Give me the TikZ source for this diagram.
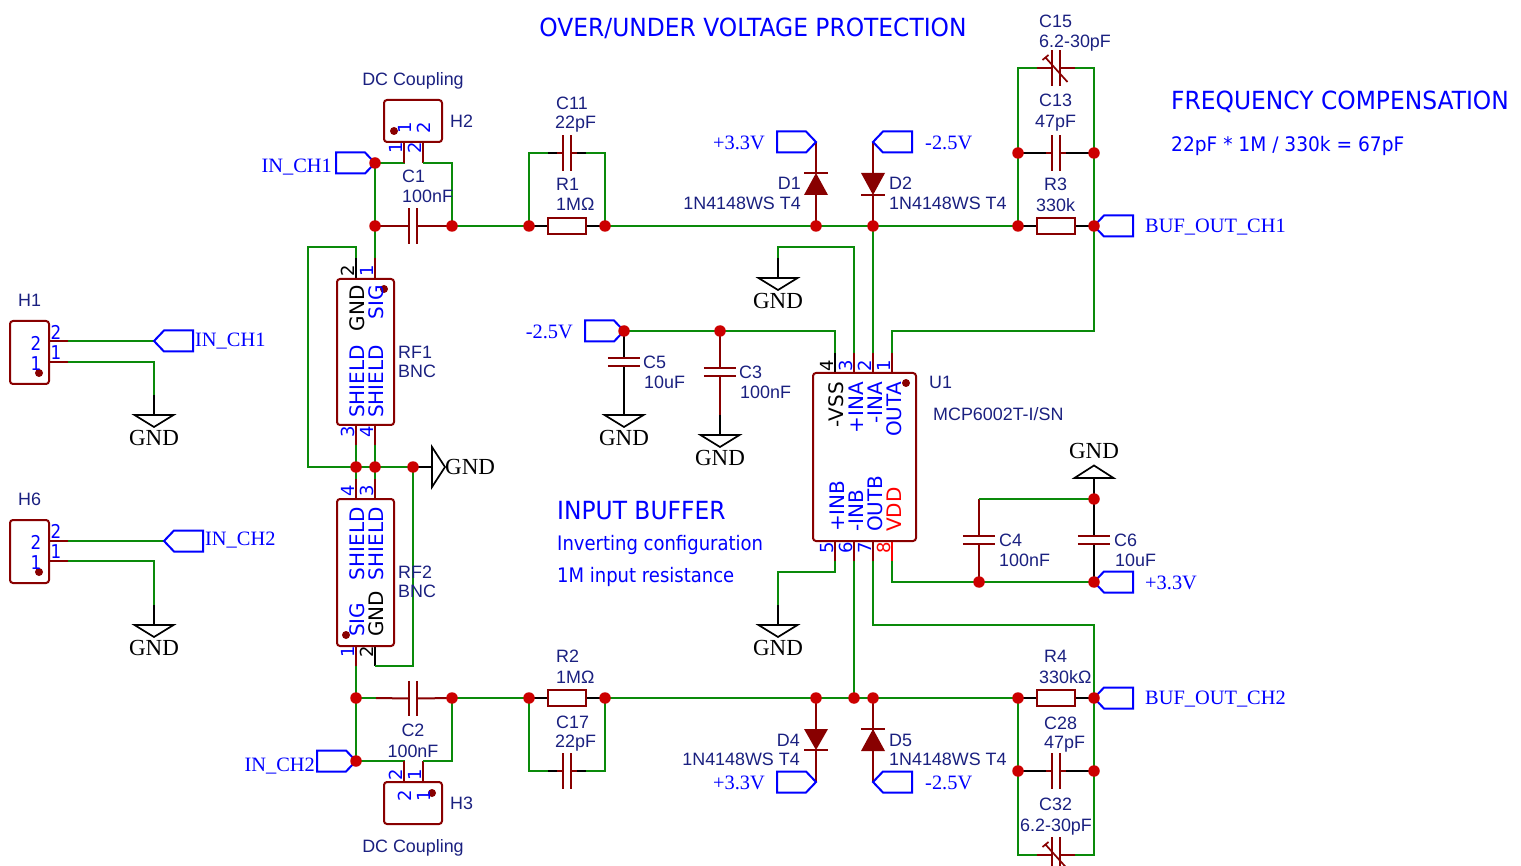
\documentclass[tikz,border=0pt]{standalone}
\usepackage{fontspec}
\setmainfont{Liberation Sans}
\newfontfamily\netfont{Liberation Serif}
\newfontfamily\pinfont{DejaVu Sans}
\newfontfamily\pnhfont[FakeStretch=0.88]{DejaVu Sans}
\newfontfamily\pnamefont[FakeStretch=1.0]{DejaVu Sans}
\newfontfamily\notefont[FakeStretch=0.9]{DejaVu Sans}
\newfontfamily\notefontb[FakeStretch=0.93]{DejaVu Sans}
\newfontfamily\headfont[FakeStretch=0.935]{DejaVu Sans}
\usetikzlibrary{backgrounds}
\definecolor{wirecol}{HTML}{0A8A0A}
\definecolor{symcol}{HTML}{880000}
\definecolor{juncol}{HTML}{CC0000}
\definecolor{netblue}{HTML}{0000FF}
\definecolor{desig}{HTML}{1A2080}
\tikzset{
  wirex/.style={draw=wirecol,line width=2pt,line join=miter},
  pinred/.style={draw=symcol,line width=2pt},
  pinblk/.style={draw=black,line width=2pt},
  sym/.style={draw=symcol,line width=2pt},
  junc/.style={circle,fill=juncol,draw=none,inner sep=0pt,minimum size=11.5pt},
  dotm/.style={circle,fill=symcol,draw=none,inner sep=0pt,minimum size=8pt},
  resbox/.style={draw=symcol,line width=2pt,fill=white,inner sep=0pt,minimum width=38pt,minimum height=16pt},
  hcapbox/.style={inner sep=0pt,minimum width=8pt,minimum height=35pt},
  vcapbox/.style={inner sep=0pt,minimum width=32pt,minimum height=8pt},
  chip/.style={draw=symcol,line width=2pt,rounded corners=3pt,inner sep=0pt,fill=white},
  flagline/.style={draw=netblue,line width=2pt,line join=miter},
  gndline/.style={draw=black,line width=1.7pt,line join=miter},
  lab/.style={inner sep=0pt,text=desig,font=\fontsize{17.9}{20}\selectfont,anchor=west},
  netlab/.style={inner sep=0pt,text=netblue,yshift=-1.2pt,font=\netfont\fontsize{20.4}{22}\selectfont},
  gndlab/.style={inner sep=0pt,text=black,yshift=-0.3pt,font=\netfont\fontsize{23}{24}\selectfont},
  pnum/.style={inner sep=0pt,text=netblue,font=\pinfont\fontsize{18}{20}\selectfont,rotate=90},
  pnumh/.style={inner sep=0pt,text=netblue,font=\pnhfont\fontsize{19}{20}\selectfont},
  pname/.style={inner sep=0pt,text=netblue,font=\pnamefont\fontsize{20}{22}\selectfont,rotate=90},
  note/.style={inner sep=0pt,text=netblue,anchor=west,font=\notefont\fontsize{20}{22}\selectfont},
  head/.style={inner sep=0pt,text=netblue,anchor=west,font=\headfont\fontsize{25}{28}\selectfont},
}
\newcommand{\ChipBox}[5]{\node[chip,minimum width=#4pt,minimum height=#5pt] (#1) at (#2,#3) {};}
\newcommand{\HCap}[3]{\node[hcapbox] (#1) at (#2,#3) {};
  \draw[sym] (#1.north west)--(#1.south west) (#1.north east)--(#1.south east);}
\newcommand{\VCap}[3]{\node[vcapbox] (#1) at (#2,#3) {};
  \draw[sym] (#1.north west)--(#1.north east) (#1.south west)--(#1.south east);}
\newcommand{\VarArrow}[2]{\draw[draw=symcol,line width=1.7pt] (#1-7.5,#2-11)--(#1+15,#2+14) (#1-10,#2-8)--(#1-4,#2-13);}
\newcommand{\FlagR}[3]{\coordinate (#1) at (#2,#3);
  \draw[flagline] (#1)--++(-10,-10.5)--++(-29,0)--++(0,21)--++(29,0)--cycle;}
\newcommand{\FlagL}[3]{\coordinate (#1) at (#2,#3);
  \draw[flagline] (#1)--++(10,-10.5)--++(29,0)--++(0,21)--++(-29,0)--cycle;}
\newcommand{\GndDown}[3]{\coordinate (#1) at (#2,#3);
  \draw[gndline] (#1)++(-19.5,0)--++(39,0)--++(-19.5,12)--cycle;
  \node[gndlab] (#1txt) at (#2,#3+23) {GND};}
\begin{document}
\begin{tikzpicture}[x=1pt,y=-1pt]
\useasboundingbox (0,0) rectangle (1521,866);
\begin{scope}
\clip (0,0) rectangle (1521,866);

% ---------- flags
\FlagR{fInCh1a}{375}{163}
\FlagR{fInCh2a}{356}{761}
\FlagL{fInCh1b}{154}{341}
\FlagL{fInCh2b}{164}{541}
\FlagR{fP33a}{816}{142}
\FlagL{fM25a}{873}{142}
\FlagR{fM25c}{624}{331}
\FlagL{fOut1}{1094}{226}
\FlagL{fOut2}{1094}{698}
\FlagL{fP33c}{1094}{582}
\FlagR{fP33b}{816}{782}
\FlagL{fM25b}{873}{782}

% ---------- junctions
\foreach \n/\p in {j1/{375,163},j2/{375,226},j3/{452,226},j4/{529,226},j5/{605,226},j6/{816,226},j7/{873,226},
  j8/{1018,226},j9/{1094,226},j10/{1018,153},j11/{1094,153},j12/{624,331},j13/{720,331},j14/{356,467},j15/{375,467},
  j16/{413,467},j17/{356,698},j18/{452,698},j19/{529,698},j20/{605,698},j21/{816,698},j22/{854,698},j23/{873,698},
  j24/{1018,698},j25/{1094,698},j26/{1018,771},j27/{1094,771},j28/{356,761},j29/{979,582},j30/{1094,582},j31/{1094,499}}
  {\node[junc] (\n) at (\p) {};}

% ---------- resistors
\node[resbox] (R1) at (567,226) {};
\node[resbox] (R3) at (1056,226) {};
\node[resbox] (R2) at (567,698) {};
\node[resbox] (R4) at (1056,698) {};
% ---------- capacitors
\HCap{C1}{413}{226}
\HCap{C2}{413}{698.5}
\HCap{C11}{567}{153}
\HCap{C17}{567}{771}
\HCap{C13}{1056}{153}
\HCap{C15}{1056}{68}
\HCap{C28}{1056}{771}
\HCap{C32}{1056}{855}
\VarArrow{1052.5}{68}
\VarArrow{1052.5}{855}
\VCap{C5}{624}{362}
\VCap{C3}{720}{372}
\VCap{C4}{979}{540}
\VCap{C6}{1094}{540}
% ---------- packages
\ChipBox{H2}{413}{121}{58}{42}
\ChipBox{H3}{413}{803}{58}{42}
\ChipBox{RF1}{365.5}{352}{57}{146}
\ChipBox{RF2}{365.5}{572.5}{57}{147}
\ChipBox{U1}{864.5}{457}{103}{168}
\ChipBox{H1}{29.5}{352.5}{39}{63}
\ChipBox{H6}{29.5}{551.5}{39}{63}
% ---------- grounds
\GndDown{g1}{154}{415}
\GndDown{g2}{154}{625}
\GndDown{g3}{778}{278}
\GndDown{g4}{624}{415}
\GndDown{g5}{720}{435}
\GndDown{g6}{778}{625}
\coordinate (g7) at (1094,478);
\draw[gndline] (g7)++(-19.5,0)--++(39,0)--++(-19.5,-12.5)--cycle;
\node[gndlab] (g7txt) at (1094,451) {GND};
\coordinate (g8) at (432,467);
\draw[gndline] (g8)++(0,-20)--++(0,40)--++(13,-20)--cycle;
\node[gndlab,anchor=west] (g8txt) at (445,467) {GND};
% ---------- diodes
\coordinate (D1a) at (816,195); \coordinate (D1k) at (816,173);
\coordinate (D2a) at (873,173); \coordinate (D2k) at (873,195);
\coordinate (D4a) at (816,729); \coordinate (D4k) at (816,750);
\coordinate (D5a) at (873,751); \coordinate (D5k) at (873,729);
\foreach \a/\k in {D1a/D1k,D2a/D2k,D4a/D4k,D5a/D5k}{
  \fill[symcol] (\a)++(-12,0)--++(24,0)--(\k)--cycle;
  \draw[sym] (\k)++(-12,0)--++(24,0);
}

% ---------- wires and leads behind everything
\begin{scope}[on background layer]
\draw[wirex] (j1.center)--(j2.center)--(375,258);
\draw[pinred] (375,258)--(375,279);
\draw[wirex] (j1.center)-|(404,155);
\draw[pinred] (404,163)--(404,142);
\draw[pinred] (423,142)--(423,163);
\draw[wirex] (423,163)-|(j3.center);
\draw[pinred] (j2.center)--(C1.west) (C1.east)--(j3.center);
\draw[wirex] (j3.center)--(j4.center);
\draw[pinblk] (j4.center)--(R1.west) (R1.east)--(j5.center);
\draw[wirex] (j4.center)|-(548,153);
\draw[wirex] (j5.center)|-(586,153);
\draw[pinblk] (548,153)--(C11.west) (C11.east)--(586,153);
\draw[pinred] (557,153)--(C11.west) (C11.east)--(577,153);
\draw[wirex] (j5.center)--(j6.center)--(j7.center)--(j8.center);
\draw[pinblk] (j8.center)--(R3.west) (R3.east)--(j9.center);
\draw[wirex] (j8.center)--(j10.center)--(1018,68)--(1037,68);
\draw[wirex] (j9.center)--(j11.center)--(1094,68)--(1075,68);
\draw[pinred] (1037,68)--(C15.west) (C15.east)--(1075,68);
\draw[pinblk] (j10.center)--(C13.west) (C13.east)--(j11.center);
\draw[pinred] (1046,153)--(C13.west) (C13.east)--(1066,153);
\draw[wirex] (j9.center)--(1094,331)-|(892,353);
\draw[pinred] (892,353)--(892,373);
\draw[pinred] (873,353)--(873,373);
\draw[wirex] (j7.center)--(873,353);
\draw[pinred] (854,353)--(854,373);
\draw[wirex] (854,353)--(854,247)-|(778,258);
\draw[pinblk] (778,258)--(g3);
\draw[pinblk] (835,353)--(835,373);
\draw[wirex] (835,353)|-(j13.center)--(j12.center);
\draw[pinblk] (j12.center)--(C5.north) (C5.south)--(g4);
\draw[pinred] (j13.center)--(C3.north) (C3.south)--(720,415);
\draw[pinblk] (720,415)--(g5);
% RF1 / RF2
\draw[pinblk] (356,279)--(356,258);
\draw[wirex] (356,258)--(356,247)-|(308,467)--(j14.center)--(j15.center)--(j16.center);
\draw[pinblk] (j16.center)--(g8);
\draw[pinred] (356,425)--(356,445) (375,425)--(375,445);
\draw[wirex] (356,445)--(j14.center) (375,445)--(j15.center);
\draw[wirex] (j14.center)--(356,479) (j15.center)--(375,479);
\draw[pinred] (356,479)--(356,499) (375,479)--(375,499);
\draw[pinred] (356,646)--(356,666);
\draw[wirex] (356,666)--(j17.center)--(j28.center);
\draw[pinblk] (375,646)--(375,666);
\draw[wirex] (375,666)-|(j16.center);
\draw[wirex] (j17.center)--(376,698);
\draw[pinred] (376,698)--(C2.west) (C2.east)--(j18.center);
\draw[wirex] (j18.center)--(j19.center);
\draw[pinblk] (j19.center)--(R2.west) (R2.east)--(j20.center);
\draw[wirex] (j19.center)|-(548,771);
\draw[wirex] (j20.center)|-(586,771);
\draw[pinblk] (548,771)--(C17.west) (C17.east)--(586,771);
\draw[pinred] (557,771)--(C17.west) (C17.east)--(577,771);
\draw[wirex] (j20.center)--(j21.center)--(j22.center)--(j23.center)--(j24.center);
\draw[pinblk] (j24.center)--(R4.west) (R4.east)--(j25.center);
\draw[wirex] (j24.center)--(j26.center)--(1018,855)--(1037,855);
\draw[wirex] (j25.center)--(j27.center)--(1094,855)--(1075,855);
\draw[pinred] (1037,855)--(C32.west) (C32.east)--(1075,855);
\draw[pinblk] (j26.center)--(C28.west) (C28.east)--(j27.center);
\draw[pinred] (1046,771)--(C28.west) (C28.east)--(1066,771);
% H3
\draw[wirex] (j28.center)-|(404,770);
\draw[pinred] (404,761)--(404,782) (423,761)--(423,782);
\draw[wirex] (423,761)-|(j18.center);
% U1 bottom
\draw[pinred] (835,541)--(835,561) (854,541)--(854,561) (873,541)--(873,561);
\draw[draw=red,line width=2pt] (892,541)--(892,561);
\draw[wirex] (835,561)--(835,572)-|(778,605);
\draw[pinblk] (778,605)--(g6);
\draw[wirex] (854,561)--(j22.center);
\draw[wirex] (873,561)--(873,625)-|(j25.center);
\draw[wirex] (892,561)--(892,582)--(j29.center)--(j30.center);
\draw[pinred] (j29.center)--(C4.south) (C4.north)--(979,499);
\draw[wirex] (979,499)--(j31.center);
\draw[pinblk] (j31.center)--(C6.north) (C6.south)--(j30.center);
\draw[pinblk] (j31.center)--(g7);
% diodes
\draw[pinred] (j6.center)--(D1a) (D1k)--(fP33a);
\draw[pinred] (j7.center)--(D2k) (D2a)--(fM25a);
\draw[pinred] (j21.center)--(D4a) (D4k)--(fP33b);
\draw[pinred] (j23.center)--(D5a) (D5k)--(fM25b);
% H1 H6
\draw[pinred] (49,341)--(68,341) (49,362)--(68,362);
\draw[wirex] (68,341)--(fInCh1b);
\draw[wirex] (68,362)-|(154,395);
\draw[pinblk] (154,395)--(g1);
\draw[pinred] (49,541)--(68,541) (49,561)--(68,561);
\draw[wirex] (68,541)--(fInCh2b);
\draw[wirex] (68,561)-|(154,605);
\draw[pinblk] (154,605)--(g2);
\end{scope}

% ---------- component dots
\node[dotm] (d1) at (394,131) {};
\node[dotm] (d2) at (432,793) {};
\node[dotm] (d3) at (384,289) {};
\node[dotm] (d4) at (346,635) {};
\node[dotm] (d5) at (906,383) {};
\node[dotm] (d6) at (39,373) {};
\node[dotm] (d7) at (39,572) {};

% ---------- free text
\node[inner sep=0pt,text=netblue,font=\headfont\fontsize{25}{28}\selectfont] (t1) at (753,28) {OVER/UNDER VOLTAGE PROTECTION};
\node[head] (t2) at (1171,102) {FREQUENCY COMPENSATION};
\node[note,font=\notefontb\fontsize{20}{22}\selectfont] (t3) at (1171,146) {22pF * 1M / 330k = 67pF};
\node[head] (t4) at (557,511) {INPUT BUFFER};
\node[note] (t5) at (557,545) {Inverting configuration};
\node[note] (t6) at (557,577) {1M input resistance};

% ---------- designators and values
\node[lab,anchor=center] (l1) at (413,81) {DC Coupling};
\node[lab,anchor=center] (l2) at (413,848) {DC Coupling};
\node[lab] (l3) at (450,121) {H2};
\node[lab] (l4) at (450,803) {H3};
\node[lab] (l5) at (402,176) {C1};
\node[lab] (l6) at (402,196) {100nF};
\node[lab,anchor=center] (l7) at (413,730) {C2};
\node[lab,anchor=center] (l8) at (413,751) {100nF};
\node[lab] (l9) at (556,103) {C11};
\node[lab] (l10) at (555,124) {22pF};
\node[lab] (l11) at (556,184) {R1};
\node[lab] (l12) at (556,204) {1MΩ};
\node[lab] (l13) at (556,656) {R2};
\node[lab] (l14) at (556,677) {1MΩ};
\node[lab] (l15) at (556,722) {C17};
\node[lab] (l16) at (555,743) {22pF};
\node[lab] (l17) at (1039,21) {C15};
\node[lab] (l18) at (1039,43) {6.2-30pF};
\node[lab] (l19) at (1039,100) {C13};
\node[lab] (l20) at (1035,123) {47pF};
\node[lab] (l21) at (1044,184) {R3};
\node[lab] (l22) at (1036,205) {330k};
\node[lab] (l23) at (1044,656) {R4};
\node[lab] (l24) at (1039,677) {330kΩ};
\node[lab] (l25) at (1044,723) {C28};
\node[lab] (l26) at (1044,744) {47pF};
\node[lab] (l27) at (1039,804) {C32};
\node[lab] (l28) at (1020,827) {6.2-30pF};
\node[lab,anchor=east] (l29) at (801,183) {D1};
\node[lab,anchor=east] (l30) at (801,203) {1N4148WS T4};
\node[lab] (l31) at (889,183) {D2};
\node[lab] (l32) at (889,203) {1N4148WS T4};
\node[lab,anchor=east] (l33) at (800,740) {D4};
\node[lab,anchor=east] (l34) at (800,759) {1N4148WS T4};
\node[lab] (l35) at (889,740) {D5};
\node[lab] (l36) at (889,759) {1N4148WS T4};
\node[lab] (l37) at (643,362) {C5};
\node[lab] (l38) at (644,382) {10uF};
\node[lab] (l39) at (739,372) {C3};
\node[lab] (l40) at (740,392) {100nF};
\node[lab] (l41) at (999,540) {C4};
\node[lab] (l42) at (999,560) {100nF};
\node[lab] (l43) at (1114,540) {C6};
\node[lab] (l44) at (1115,560) {10uF};
\node[lab] (l45) at (398,352) {RF1};
\node[lab] (l46) at (398,371) {BNC};
\node[lab] (l47) at (398,572) {RF2};
\node[lab] (l48) at (398,591) {BNC};
\node[lab] (l49) at (929,382) {U1};
\node[lab] (l50) at (933,414) {MCP6002T-I/SN};
\node[lab] (l51) at (18,300) {H1};
\node[lab] (l52) at (18,499) {H6};

% ---------- net labels
\node[netlab,anchor=east] (n1) at (332,166) {IN\_CH1};
\node[netlab,anchor=east] (n2) at (315,765) {IN\_CH2};
\node[netlab,anchor=west] (n3) at (195,340) {IN\_CH1};
\node[netlab,anchor=west] (n4) at (205,539) {IN\_CH2};
\node[netlab,anchor=east] (n5) at (765,142) {+3.3V};
\node[netlab,anchor=west] (n6) at (925,142) {-2.5V};
\node[netlab,anchor=east] (n7) at (573,331) {-2.5V};
\node[netlab,anchor=west] (n8) at (1145,226) {BUF\_OUT\_CH1};
\node[netlab,anchor=west] (n9) at (1145,698) {BUF\_OUT\_CH2};
\node[netlab,anchor=west] (n10) at (1145,582) {+3.3V};
\node[netlab,anchor=east] (n11) at (765,782) {+3.3V};
\node[netlab,anchor=west] (n12) at (925,782) {-2.5V};

% ---------- pin numbers
\foreach \n/\x/\y/\t in {p1/396/148/1,p2/415/148/2,p3/405/128/1,p4/424/128/2,p5/367/271/1,p6/348/432/3,p7/367/432/4,
  p8/348/491/4,p9/367/491/3,p10/348/652/1,p11/396/775/2,p12/415/775/1,p13/405/796/2,p14/424/796/1,
  p15/846/366/3,p16/865/366/2,p17/884/366/1,p18/827/548/5,p19/846/548/6,p20/865/548/7}
  {\node[pnum] (\n) at (\x,\y) {\t};}
\node[pnum,text=black] (p21) at (348,271) {2};
\node[pnum,text=black] (p22) at (367,652) {2};
\node[pnum,text=black] (p23) at (827,366) {4};
\node[pnum,text=red] (p24) at (884,548) {8};
\foreach \n/\x/\y/\t in {q1/56/332/2,q2/56/353/1,q3/36/343/2,q4/36/364/1,q5/56/531/2,q6/56/552/1,q7/36/542/2,q8/36/563/1}
  {\node[pnumh] (\n) at (\x,\y) {\t};}

% ---------- pin names
\node[pname,anchor=east,text=black] (a1) at (357,285) {GND};
\node[pname,anchor=east] (a2) at (376,285) {SIG};
\node[pname,anchor=west] (a3) at (357,418) {SHIELD};
\node[pname,anchor=west] (a4) at (376,418) {SHIELD};
\node[pname,anchor=east] (a5) at (357,507) {SHIELD};
\node[pname,anchor=east] (a6) at (376,507) {SHIELD};
\node[pname,anchor=west] (a7) at (357,637) {SIG};
\node[pname,anchor=west,text=black] (a8) at (376,637) {GND};
\node[pname,anchor=east,text=black] (a9) at (836,382) {-VSS};
\node[pname,anchor=east] (a10) at (856,382) {+INA};
\node[pname,anchor=east] (a11) at (875,382) {-INA};
\node[pname,anchor=east] (a12) at (894,382) {OUTA};
\node[pname,anchor=west] (a13) at (837,532) {+INB};
\node[pname,anchor=west] (a14) at (856,532) {-INB};
\node[pname,anchor=west] (a15) at (875,532) {OUTB};
\node[pname,anchor=west,text=red] (a16) at (894,532) {VDD};
\end{scope}
\end{tikzpicture}
\end{document}
